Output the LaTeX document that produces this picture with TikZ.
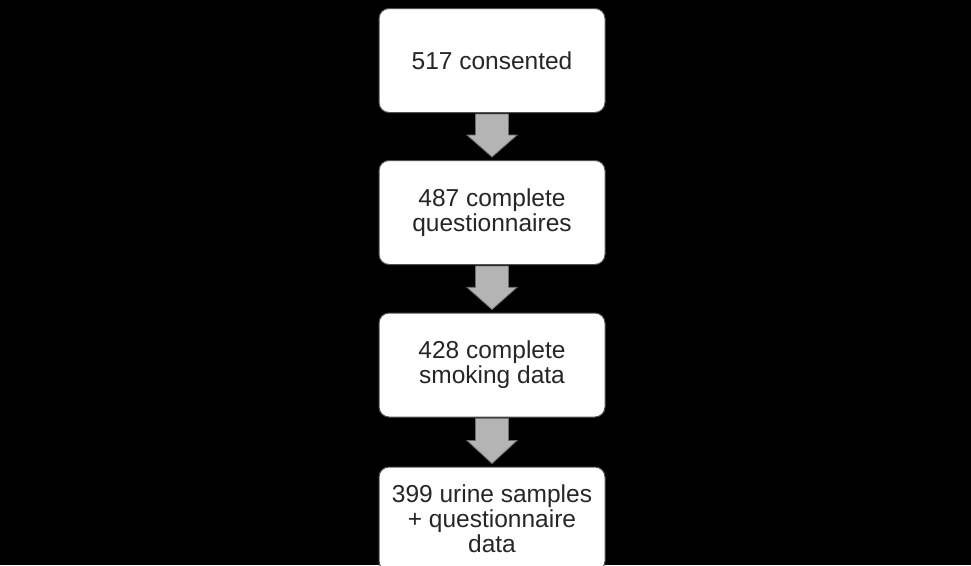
\documentclass[tikz,border=0pt]{standalone}
\usepackage{fontspec}
\setmainfont{Liberation Sans}
\usetikzlibrary{calc}
\definecolor{arrowfill}{HTML}{B4B4B4}
\definecolor{arrowline}{HTML}{6E6E6E}
\definecolor{boxline}{HTML}{505050}
\tikzset{
  flowbox/.style={draw=boxline, line width=1pt, fill=white, rounded corners=10pt,
    minimum width=226pt, minimum height=104pt, align=center, inner sep=2pt,
    font=\fontsize{24.5pt}{25pt}\selectfont, text=black!85},
  blockarrow/.style={fill=arrowfill, draw=arrowline, line width=0.8pt, line join=miter}
}
\newcommand{\downarrowblock}[2]{%
  \path[blockarrow]
    ($(#1.south)+(-16.5pt,-1pt)$) -- ($(#1.south)+(16.5pt,-1pt)$)
    -- ($(#1.south)!0.47!(#2.north)+(16.5pt,0)$)
    -- ($(#1.south)!0.47!(#2.north)+(25pt,0)$)
    -- ($(#2.north)+(0,3pt)$)
    -- ($(#1.south)!0.47!(#2.north)+(-25pt,0)$)
    -- ($(#1.south)!0.47!(#2.north)+(-16.5pt,0)$) -- cycle;}
\begin{document}
\begin{tikzpicture}[x=1pt,y=-1pt]
\fill[black] (0,0) rectangle (971,565);
\useasboundingbox (0,0) rectangle (971,565);
\node[flowbox] (b1) at (492,60.5) {517 consented};
\node[flowbox] (b2) at (492,212.5) {487 complete\\questionnaires};
\node[flowbox] (b3) at (492,365) {428 complete\\smoking data};
\node[flowbox] (b4) at (492,519) {399 urine samples\\+ questionnaire\\data};
\downarrowblock{b1}{b2}
\downarrowblock{b2}{b3}
\downarrowblock{b3}{b4}
\end{tikzpicture}
\end{document}
